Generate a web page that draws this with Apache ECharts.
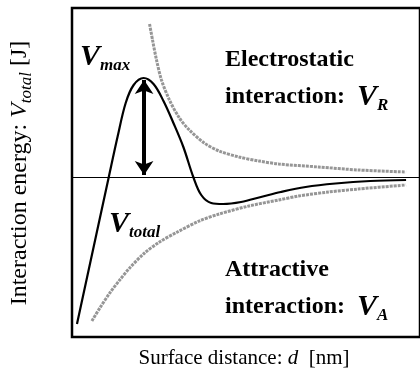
<!DOCTYPE html>
<html>
<head>
<meta charset="utf-8">
<script src="https://cdn.jsdelivr.net/npm/echarts@6/dist/echarts.min.js"></script>
<style>
html, body { margin: 0; padding: 0; background: #fff; }
#chart { width: 420px; height: 378px; }
</style>
</head>
<body>
<div id="chart"></div>
<script>
// values: [surface distance, energy] in arbitrary units
var totalCurve = [
	[0.5, -14.7], [3.7, 0], [4.6, 4.1], [5.4, 7.4], [6.2, 9.2], [7.2, 9.9],
	[8.2, 9.3], [9.2, 7.6], [10.2, 5.4], [11.2, 3.0], [12.2, 0], [13.0, -1.8],
	[14.0, -2.6], [15.2, -2.7], [17.0, -2.5], [19.0, -2.0], [21.0, -1.5],
	[23.5, -1.0], [26.5, -0.65], [30.0, -0.4], [33.6, -0.3]
];
var repulsive = [
	[7.8, 15.3], [8.1, 13.7], [8.5, 11.7], [9.0, 9.7], [9.8, 7.7], [10.8, 5.9],
	[11.8, 4.7], [13.3, 3.4], [14.8, 2.6], [16.8, 2.0], [18.8, 1.6], [20.8, 1.3],
	[24.8, 1.0], [28.8, 0.7], [33.6, 0.5]
];
var attractive = [
	[2.0, -14.4], [2.8, -13.1], [3.8, -11.6], [4.8, -10.3], [5.8, -9.1], [7.3, -7.6],
	[8.8, -6.5], [10.6, -5.5], [12.8, -4.4], [14.8, -3.7], [17.8, -2.9], [20.8, -2.3],
	[22.8, -1.9], [25.8, -1.5], [28.8, -1.2], [33.6, -0.8]
];
// double arrow from the barrier top down to zero
var vmaxArrow = [[7.25, 9.7], [7.25, 0.2]];

var serif = '"Liberation Serif", "Times New Roman", serif';

function label(x, y, text, rich, extra)
{
	var el = {
		type: 'text',
		x: x,
		y: y,
		silent: true,
		style: {
			text: text,
			fill: '#000',
			fontFamily: serif,
			fontSize: 24,
			fontWeight: 'bold',
			align: 'left',
			textAlign: 'left',
			verticalAlign: 'top',
			textVerticalAlign: 'top',
			rich: rich || {}
		}
	};
	if (extra)
	{
		for (var k in extra) el.style[k] = extra[k];
	}
	return el;
}

var subRich = {
	v: { fontFamily: serif, fontSize: 30, fontWeight: 'bold', fontStyle: 'italic', lineHeight: 30, verticalAlign: 'top' },
	s: { fontFamily: serif, fontSize: 17, fontWeight: 'bold', fontStyle: 'italic', lineHeight: 17, padding: [15, 0, 0, 0], verticalAlign: 'top' },
	n: { fontFamily: serif, fontSize: 24, fontWeight: 'bold', lineHeight: 24, padding: [3, 0, 0, 0], verticalAlign: 'top' }
};

var chart = echarts.init(document.getElementById('chart'));

var options =
{
	animation: false,
	grid: {
		left: 72,
		top: 8,
		right: -4,
		bottom: 41,
		show: true,
		borderColor: '#000',
		borderWidth: 2.5
	},
	xAxis: {
		type: 'value',
		min: 0,
		max: 35,
		show: false
	},
	yAxis: {
		type: 'value',
		min: -16,
		max: 16.9,
		show: false
	},
	series: [
		{
			name: 'V_R',
			type: 'line',
			data: repulsive,
			showSymbol: false,
			smooth: 0.3,
			silent: true,
			lineStyle: { color: '#969696', width: 3, type: [3, 1] }
		},
		{
			name: 'V_A',
			type: 'line',
			data: attractive,
			showSymbol: false,
			smooth: 0.3,
			silent: true,
			lineStyle: { color: '#969696', width: 3, type: [3, 1] }
		},
		{
			name: 'V_total',
			type: 'line',
			data: totalCurve,
			showSymbol: false,
			smooth: 0.35,
			silent: true,
			z: 3,
			lineStyle: { color: '#000', width: 2.2 },
			markLine: {
				silent: true,
				symbol: 'none',
				animation: false,
				label: { show: false },
				lineStyle: { color: '#000', width: 1, type: 'solid' },
				data: [{ yAxis: 0 }]
			}
		},
		{
			type: 'lines',
			coordinateSystem: 'cartesian2d',
			silent: true,
			z: 4,
			symbol: ['arrow', 'arrow'],
			symbolSize: 14,
			lineStyle: { color: '#000', width: 4, opacity: 1 },
			data: [{ coords: vmaxArrow }]
		}
	],
	graphic: [
		label(80, 42, '{v|V}{s|max}', subRich),
		label(225, 48, 'Electrostatic'),
		label(225, 82, '{n|interaction:  }{v|V}{s|R}', subRich),
		label(109, 209, '{v|V}{s|total}', subRich),
		label(225, 258, 'Attractive'),
		label(225, 292, '{n|interaction:  }{v|V}{s|A}', subRich),
		{
			type: 'text',
			x: 244,
			y: 358,
			silent: true,
			style: {
				text: 'Surface distance: {i|d}  [nm]',
				fill: '#000',
				fontFamily: serif,
				fontSize: 21,
				align: 'center',
				textAlign: 'center',
				verticalAlign: 'middle',
				textVerticalAlign: 'middle',
				rich: {
					i: { fontFamily: serif, fontSize: 21, fontStyle: 'italic' }
				}
			}
		},
		{
			type: 'text',
			x: 21,
			y: 173,
			rotation: Math.PI / 2,
			silent: true,
			style: {
				text: '{n|Interaction energy: }{v|V}{s|total}{n| [J]}',
				fill: '#000',
				fontFamily: serif,
				fontSize: 24,
				align: 'center',
				textAlign: 'center',
				verticalAlign: 'middle',
				textVerticalAlign: 'middle',
				rich: {
					n: { fontFamily: serif, fontSize: 24, lineHeight: 26, verticalAlign: 'top' },
					v: { fontFamily: serif, fontSize: 24, fontStyle: 'italic', lineHeight: 26, verticalAlign: 'top' },
					s: { fontFamily: serif, fontSize: 17, fontStyle: 'italic', lineHeight: 17, padding: [10, 0, 0, 0], verticalAlign: 'top' }
				}
			}
		}
	]
};

chart.setOption(options);
</script>
</body>
</html>
